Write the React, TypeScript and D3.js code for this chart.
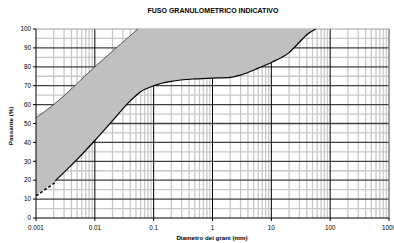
import React from 'react';
import * as d3 from 'd3';

// curva superiore del fuso (diametro mm, passante %)
const upperCurve: [number, number][] = [
  [0.001, 53], [0.002, 60], [0.01, 80], [0.054, 100],
];
// curva inferiore del fuso
const lowerCurve: [number, number][] = [
  [0.001, 12.5], [0.0021, 19.5], [0.005, 31], [0.01, 41], [0.02, 51.5],
  [0.04, 62], [0.06, 66.8], [0.1, 70], [0.2, 72.3], [0.5, 73.6], [1, 74],
  [2, 74.4], [3, 75.6], [6, 79.3], [10, 82.3], [20, 87.5], [30, 93],
  [40, 97], [57, 100],
];
const xTicks = [0.001, 0.01, 0.1, 1, 10, 100, 1000];
const xTickLabels = ['0.001', '0.01', '0.1', '1', '10', '100', '1000'];
const yTicks = [0, 10, 20, 30, 40, 50, 60, 70, 80, 90, 100];

const W = 394, H = 243;
const left = 36, right = 389, top = 29, bottom = 218;
const font = '"Liberation Sans", Arial, sans-serif';

export default function App() {
  const x = d3.scaleLog().domain([0.001, 1000]).range([left, right]);
  const y = d3.scaleLinear().domain([0, 100]).range([bottom, top]);

  const line = d3.line<[number, number]>()
    .x(d => x(d[0]))
    .y(d => y(d[1]))
    .curve(d3.curveMonotoneX);

  // minor grid (2..9 per decade)
  const minorX: number[] = [];
  for (let e = -3; e < 3; e++) {
    for (let m = 2; m <= 9; m++) minorX.push(m * Math.pow(10, e));
  }
  const halfY = d3.range(5, 100, 10);

  // fill built from the two smooth curves
  const upPath = line(upperCurve) || '';
  const lowRev = line(lowerCurve.slice().reverse()) || '';
  const fillPath = upPath + 'L' + lowRev.slice(1) + 'Z';

  const dashedPart = lowerCurve.slice(0, 2);
  const solidPart = lowerCurve.slice(1);

  return (
    <svg width={W} height={H} style={{ position: 'absolute', left: 0, top: 0 }}>
      <rect width={W} height={H} fill="#fff" />
      <text x={213} y={13} textAnchor="middle" fontFamily={font} fontWeight="bold" fontSize={7}>
        FUSO GRANULOMETRICO INDICATIVO
      </text>

      {/* grid */}
      {minorX.map(v => (
        <line key={'mx' + v} x1={x(v)} x2={x(v)} y1={top} y2={bottom} stroke="#c8c8c8" strokeWidth={1.3} />
      ))}
      {halfY.map(v => (
        <line key={'hy' + v} x1={left} x2={right} y1={y(v)} y2={y(v)} stroke="#c8c8c8" strokeWidth={1.3} />
      ))}
      {yTicks.slice(1, -1).map(v => (
        <line key={'my' + v} x1={left} x2={right} y1={y(v)} y2={y(v)} stroke="#404040" strokeWidth={1.3} />
      ))}
      {xTicks.slice(1, -1).map(v => (
        <line key={'dx' + v} x1={x(v)} x2={x(v)} y1={top} y2={bottom} stroke="#000" strokeWidth={1} />
      ))}
      <line x1={left} x2={right} y1={top} y2={top} stroke="#a0a0a0" strokeWidth={1} />
      <line x1={right} x2={right} y1={top} y2={bottom} stroke="#808080" strokeWidth={1.5} />

      <path d={fillPath} fill="#c0c0c0" stroke="none" />
      <path d={upPath} fill="none" stroke="#333" strokeWidth={0.8} />
      <path d={line(solidPart) || ''} fill="none" stroke="#000" strokeWidth={1.2} />
      <path d={d3.line<[number, number]>().x(d => x(d[0])).y(d => y(d[1]) + 1.5)(dashedPart) || ''}
        fill="none" stroke="#000" strokeWidth={1.5} strokeDasharray="3,2" />

      {/* axes */}
      <line x1={left} x2={left} y1={top} y2={bottom} stroke="#000" strokeWidth={1} />
      <line x1={left} x2={right} y1={bottom} y2={bottom} stroke="#000" strokeWidth={1} />
      {yTicks.map(v => (
        <g key={'yt' + v}>
          <line x1={left - 3} x2={left} y1={y(v)} y2={y(v)} stroke="#000" />
          <text x={left - 5} y={y(v) + 2.2} textAnchor="end" fontFamily={font} fontSize={6.3}>{v}</text>
        </g>
      ))}
      {xTicks.map((v, i) => (
        <g key={'xt' + v}>
          <line x1={x(v)} x2={x(v)} y1={bottom} y2={bottom + 3} stroke="#000" />
          <text x={x(v)} y={230} textAnchor="middle" fontFamily={font} fontSize={6.3}>{xTickLabels[i]}</text>
        </g>
      ))}
      <text x={212} y={240} textAnchor="middle" fontFamily={font} fontWeight="bold" fontSize={6.2}>
        Diametro dei grani (mm)
      </text>
      <text transform="translate(13,126) rotate(-90)" textAnchor="middle" fontFamily={font} fontWeight="bold" fontSize={6.2}>
        Passante (%)
      </text>
    </svg>
  );
}
